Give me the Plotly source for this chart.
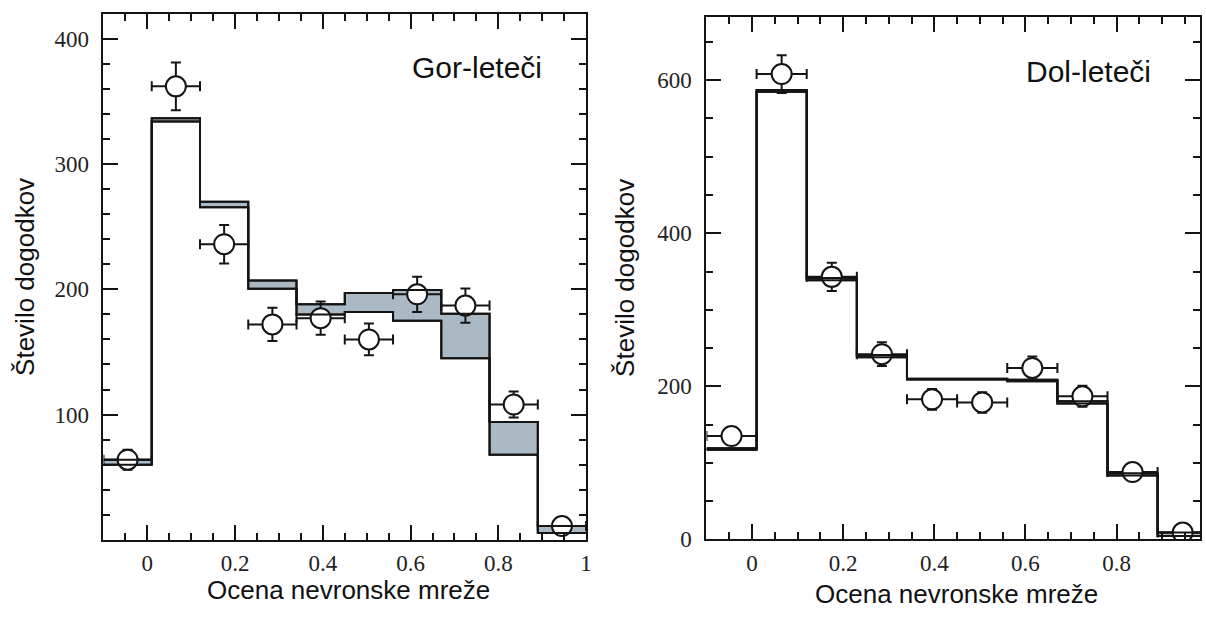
import plotly.graph_objects as go

# ---------------- data ----------------
bin_edges = [-0.1, 0.01, 0.12, 0.23, 0.34, 0.45, 0.56, 0.67, 0.78, 0.89, 1.0]

# Gor-leteci (left panel)
gor_mc_low = [60, 334, 265.5, 200.5, 180, 182, 175, 145, 68, 5.5]
gor_mc_high = [64, 336.5, 270, 207, 188, 197, 199.5, 180.5, 94, 11]
gor_data = [64, 362, 236, 172, 177, 160, 196, 187, 108, 11]
gor_err = [8, 19, 15.3, 13.3, 13.3, 12.7, 14, 13.7, 10.4, 3.3]

# Dol-leteci (right panel)
dol_mc_low = [117, 585, 338.5, 238, 209, 209, 206.5, 177.5, 83.5, 4.5]
dol_mc_high = [119, 587, 341.5, 241, 210, 210, 208.5, 180.5, 86.5, 9]
dol_data = [135, 608, 343, 242, 183, 179, 224, 187, 88, 9]
dol_err = [11.6, 24.7, 18.5, 15.5, 13.5, 13.4, 15, 13.7, 9.4, 3]

x_tickvals = [0, 0.2, 0.4, 0.6, 0.8, 1]
x_ticktext = ["0", "0.2", "0.4", "0.6", "0.8", "1"]
gor_y_tickvals = [100, 200, 300, 400]
gor_y_ticktext = ["100", "200", "300", "400"]
dol_y_tickvals = [0, 200, 400, 600]
dol_y_ticktext = ["0", "200", "400", "600"]

panel_labels = ["Gor-leteči", "Dol-leteči"]
x_title = "Ocena nevronske mreže"
y_title = "Število dogodkov"

# ---------------- derived ----------------
centers = [(a + b) / 2 for a, b in zip(bin_edges[:-1], bin_edges[1:])]
halfw = [(b - a) / 2 for a, b in zip(bin_edges[:-1], bin_edges[1:])]

W, H = 1206, 617
INK = "#141414"
BAND = "#aab9c4"

fig = go.Figure()


def step_y(vals):
    return list(vals) + [vals[-1]]


def add_panel(low, high, data, err, xa, ya):
    # band
    fig.add_trace(go.Scatter(x=bin_edges, y=step_y(low), mode="lines", line_shape="hv",
                             line=dict(color=INK, width=2), xaxis=xa, yaxis=ya,
                             showlegend=False, hoverinfo="skip"))
    fig.add_trace(go.Scatter(x=bin_edges, y=step_y(high), mode="lines", line_shape="hv",
                             line=dict(color=INK, width=2), fill="tonexty", fillcolor=BAND,
                             xaxis=xa, yaxis=ya, showlegend=False, hoverinfo="skip"))
    # data points
    fig.add_trace(go.Scatter(x=centers, y=data, mode="markers",
                             marker=dict(symbol="circle", size=20, color="white",
                                         line=dict(color=INK, width=2)),
                             error_x=dict(type="data", array=halfw, thickness=2, width=5, color=INK),
                             error_y=dict(type="data", array=err, thickness=2, width=5, color=INK),
                             xaxis=xa, yaxis=ya, showlegend=False))
    # lines redrawn on top of the markers
    for vals in (low, high):
        fig.add_trace(go.Scatter(x=bin_edges, y=step_y(vals), mode="lines", line_shape="hv",
                                 line=dict(color=INK, width=2), xaxis=xa, yaxis=ya,
                                 showlegend=False, hoverinfo="skip"))


add_panel(gor_mc_low, gor_mc_high, gor_data, gor_err, "x", "y")
add_panel(dol_mc_low, dol_mc_high, dol_data, dol_err, "x2", "y2")

tickfont = dict(family="Liberation Serif, Times New Roman, serif", size=23, color="#222")
common = dict(showline=True, linecolor=INK, linewidth=2, mirror="ticks", ticks="inside",
              ticklen=15, tickwidth=2, tickcolor=INK, showgrid=False, zeroline=False,
              tickfont=tickfont)

fig.update_layout(
    width=W, height=H, margin=dict(l=0, r=0, t=0, b=0),
    paper_bgcolor="white", plot_bgcolor="white", showlegend=False,
    xaxis=dict(domain=[104 / W, 589 / W], range=[-0.1, 1.0], anchor="y",
               tickmode="array", tickvals=x_tickvals, ticktext=x_ticktext,
               minor=dict(tickmode="linear", tick0=0, dtick=0.05, ticks="inside", ticklen=7,
                          tickwidth=1.5, tickcolor=INK),
               ticklabelstandoff=2, **common),
    yaxis=dict(domain=[1 - 551.5 / H, 1 - 14 / H], range=[0, 420], anchor="x",
               tickmode="array", tickvals=gor_y_tickvals, ticktext=gor_y_ticktext,
               minor=dict(tickmode="linear", tick0=0, dtick=20, ticks="inside", ticklen=7,
                          tickwidth=1.5, tickcolor=INK),
               ticklabelstandoff=8, **common),
    xaxis2=dict(domain=[710 / W, 1.0], range=[-0.1, 0.983], anchor="y2",
                tickmode="array", tickvals=x_tickvals, ticktext=x_ticktext,
                minor=dict(tickmode="linear", tick0=0, dtick=0.05, ticks="inside", ticklen=7,
                           tickwidth=1.5, tickcolor=INK),
                ticklabelstandoff=2, **common),
    yaxis2=dict(domain=[1 - 551 / H, 1 - 17 / H], range=[0, 683], anchor="x2",
                tickmode="array", tickvals=dol_y_tickvals, ticktext=dol_y_ticktext,
                minor=dict(tickmode="linear", tick0=0, dtick=50, ticks="inside", ticklen=7,
                           tickwidth=1.5, tickcolor=INK),
                ticklabelstandoff=8, **common),
)

sans = "Liberation Sans, Arial, Helvetica, sans-serif"
ann = [
    dict(text=panel_labels[0], x=479 / W, y=1 - 69 / H, size=30, angle=0),
    dict(text=panel_labels[1], x=1094 / W, y=1 - 73 / H, size=30, angle=0),
    dict(text=x_title, x=350 / W, y=1 - 603 / H, size=26, angle=0),
    dict(text=x_title, x=961 / W, y=1 - 607 / H, size=26, angle=0),
    dict(text=y_title, x=25 / W, y=1 - 283 / H, size=26, angle=-90),
    dict(text=y_title, x=628 / W, y=1 - 284 / H, size=26, angle=-90),
]
for a in ann:
    fig.add_annotation(text=a["text"], x=a["x"], y=a["y"], xref="paper", yref="paper",
                       xanchor="center", yanchor="middle", showarrow=False,
                       textangle=a["angle"], font=dict(family=sans, size=a["size"], color="#111"))

fig.write_html("out.html")
